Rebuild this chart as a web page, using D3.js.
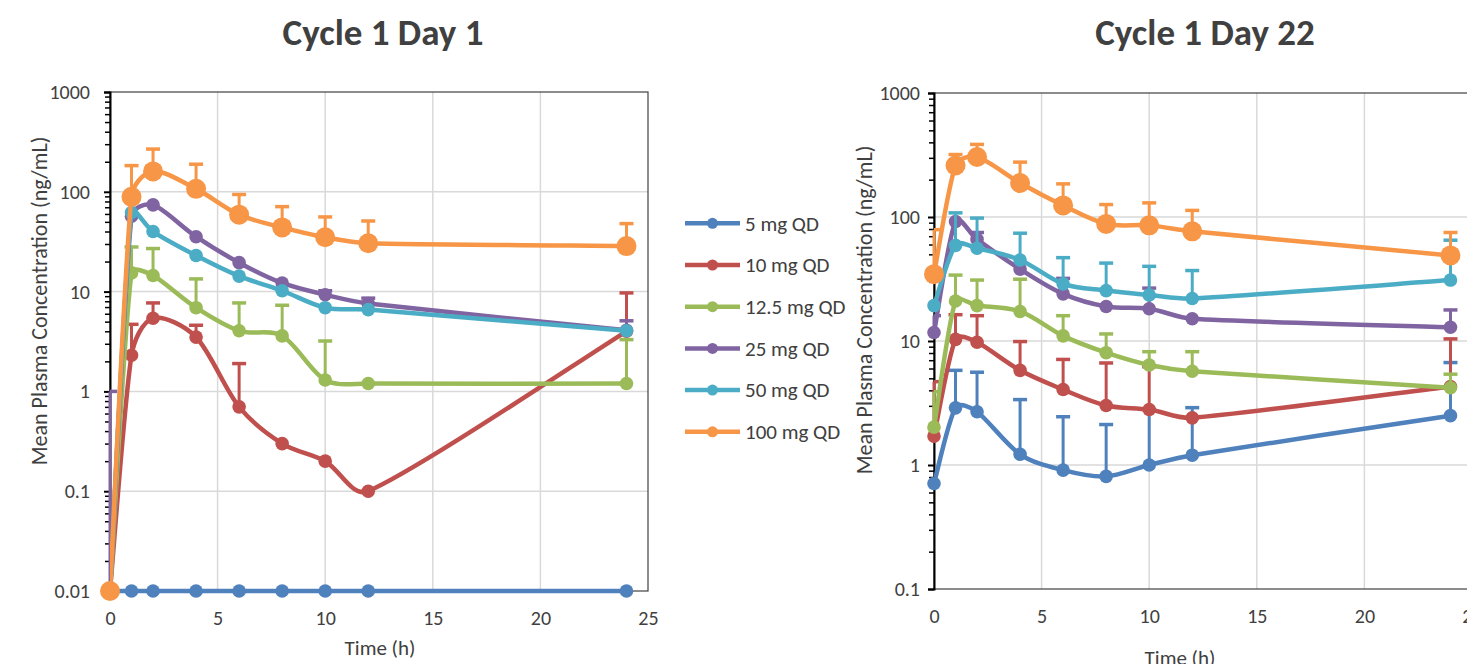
<!DOCTYPE html>
<html>
<head>
<meta charset="utf-8">
<script src="https://cdn.jsdelivr.net/npm/d3@7"></script>
<style>
body { margin: 0; background: #fff; }
text { font-family: Carlito, Lato, sans-serif; fill: #404040; }
</style>
</head>
<body>
<svg id="chart" width="1467" height="664"></svg>
<script>
var times = [0, 1, 2, 4, 6, 8, 10, 12, 24];
var doses = ["5 mg QD", "10 mg QD", "12.5 mg QD", "25 mg QD", "50 mg QD", "100 mg QD"];
var colors = ["#4F81BD", "#C0504D", "#9BBB59", "#8064A2", "#4BACC6", "#F79646"];
var xTicks = [0, 5, 10, 15, 20, 25];

// Cycle 1 Day 1 - means
var d1_5   = [0.01, 0.01, 0.01, 0.01, 0.01, 0.01, 0.01, 0.01, 0.01];
var d1_10  = [0.01, 2.3, 5.4, 3.5, 0.70, 0.30, 0.20, 0.10, 4.0];
var d1_12  = [0.01, 15.4, 14.5, 6.9, 4.05, 3.6, 1.3, 1.2, 1.2];
var d1_25  = [0.01, 57, 74, 35.5, 19.5, 12.2, 9.3, 7.6, 4.1];
var d1_50  = [0.01, 62, 40, 23, 14.3, 10.2, 6.9, 6.6, 4.05];
var d1_100 = [0.01, 89, 160, 107, 59, 44, 35, 30.5, 28.6];
// Cycle 1 Day 1 - upper error bar ends (null = not shown)
var d1_5e   = [null, null, null, null, null, null, null, null, null];
var d1_10e  = [null, 4.7, 7.7, 4.6, 1.9, null, null, null, 9.7];
var d1_12e  = [null, 28, 27, 13.4, 7.7, 7.3, 3.2, null, 3.3];
var d1_25e  = [1, null, null, null, null, null, 10.2, 8.6, 5.1];
var d1_50e  = [null, null, null, null, null, null, null, null, null];
var d1_100e = [null, 183, 268, 189, 94, 71, 56, 51, 48];

// Cycle 1 Day 22 - means
var d22_5   = [0.71, 2.89, 2.69, 1.22, 0.91, 0.81, 1.0, 1.2, 2.5];
var d22_10  = [1.71, 10.3, 9.76, 5.8, 4.06, 3.02, 2.8, 2.4, 4.3];
var d22_12  = [2.02, 21, 19.3, 17.3, 11, 8.05, 6.4, 5.7, 4.2];
var d22_25  = [11.7, 92, 66, 38, 24, 19, 18.2, 15.1, 12.9];
var d22_50  = [19.3, 59, 56, 45, 28.9, 25.5, 23.5, 22, 31];
var d22_100 = [34.6, 260, 305, 188, 124, 88, 85.6, 76.6, 49];
// Cycle 1 Day 22 - upper error bar ends
var d22_5e   = [null, 5.8, 5.6, 3.37, 2.45, 2.12, 2.8, 2.9, 6.7];
var d22_10e  = [4.7, 16.3, 16, 9.9, 7.1, 6.65, 6.2, null, 10.4];
var d22_12e  = [3.9, 34, 31, 31.5, 16, 11.4, 8.2, 8.2, 5.4];
var d22_25e  = [16, null, 75, null, 32, null, 26.7, null, 17.8];
var d22_50e  = [null, 108, 98, 74, 47, 42.5, 40, 37, 65];
var d22_100e = [79, 319, 385, 277, 185, 126, 130, 113, 75];

var svg = d3.select("#chart");

// spreadsheet-style smoothed line: catmull-rom tangents, shortened on short segments
function curveSmooth(context) {
	var pts;
	function limit(v, max) {
		var len = Math.hypot(v[0], v[1]);
		if (len > max && len > 0) return [v[0] * max / len, v[1] * max / len];
		return v;
	}
	return {
		areaStart: function() {},
		areaEnd: function() {},
		lineStart: function() { pts = []; },
		point: function(x, y) { pts.push([+x, +y]); },
		lineEnd: function() {
			var n = pts.length;
			if (!n) return;
			context.moveTo(pts[0][0], pts[0][1]);
			for (var i = 0; i < n - 1; i++) {
				var p0 = pts[Math.max(i - 1, 0)], p1 = pts[i], p2 = pts[i + 1], p3 = pts[Math.min(i + 2, n - 1)];
				var lim = Math.hypot(p2[0] - p1[0], p2[1] - p1[1]) / 3;
				var t1 = limit([(p2[0] - p0[0]) / 6, (p2[1] - p0[1]) / 6], lim);
				var t2 = limit([(p3[0] - p1[0]) / 6, (p3[1] - p1[1]) / 6], lim);
				context.bezierCurveTo(p1[0] + t1[0], p1[1] + t1[1], p2[0] - t2[0], p2[1] - t2[1], p2[0], p2[1]);
			}
		}
	};
}

function drawPanel(cfg) {
	var g = svg.append("g");
	var x = d3.scaleLinear().domain([0, 25]).range([cfg.left, cfg.right]);
	var y = d3.scaleLog().domain([cfg.ymin, 1000]).range([cfg.bottom, cfg.top]);

	var decades = [];
	for (var v = cfg.ymin; v <= 1000.5; v *= 10) decades.push(+v.toPrecision(1));
	var minors = [];
	decades.slice(0, -1).forEach(function(d) {
		for (var k = 2; k <= 9; k++) minors.push(d * k);
	});

	// gridlines
	g.selectAll(".hgrid").data(decades.slice(1, -1)).enter().append("line")
		.attr("x1", cfg.left).attr("x2", cfg.right)
		.attr("y1", function(d) { return y(d); }).attr("y2", function(d) { return y(d); })
		.attr("stroke", "#d9d9d9").attr("stroke-width", 1.5);
	g.selectAll(".vgrid").data(xTicks.slice(1, -1)).enter().append("line")
		.attr("y1", cfg.top).attr("y2", cfg.bottom)
		.attr("x1", function(d) { return x(d); }).attr("x2", function(d) { return x(d); })
		.attr("stroke", "#d9d9d9").attr("stroke-width", 1.5);

	// plot area border
	g.append("rect")
		.attr("x", cfg.left).attr("y", cfg.top)
		.attr("width", cfg.right - cfg.left).attr("height", cfg.bottom - cfg.top)
		.attr("fill", "none").attr("stroke", "#404040").attr("stroke-width", 1.2);

	// x axis
	var xAxis = g.append("g")
		.attr("transform", "translate(0," + cfg.bottom + ")")
		.call(d3.axisBottom(x).tickValues(xTicks).tickSize(0).tickPadding(20));
	xAxis.select(".domain").remove();
	xAxis.selectAll("text").style("font-size", "20px").attr("fill", "#404040");

	// y axis: minor ticks then major
	var yMinor = g.append("g")
		.attr("transform", "translate(" + cfg.left + ",0)")
		.call(d3.axisLeft(y).tickValues(minors).tickSize(5).tickFormat(""));
	yMinor.select(".domain").remove();
	yMinor.selectAll("line").attr("stroke", "#000").attr("stroke-width", 1.5);

	var yAxis = g.append("g")
		.attr("transform", "translate(" + cfg.left + ",0)")
		.call(d3.axisLeft(y).tickValues(decades).tickSize(6).tickPadding(cfg.labelPad)
			.tickFormat(function(d) { return String(d); }));
	yAxis.select(".domain").attr("stroke", "#000").attr("stroke-width", 2);
	yAxis.selectAll("line").attr("stroke", "#000").attr("stroke-width", 2);
	yAxis.selectAll("text").style("font-size", "20px").attr("fill", "#404040");

	// titles
	g.append("text")
		.attr("x", cfg.titleX).attr("y", 45)
		.attr("text-anchor", "middle")
		.style("font-size", "37px").style("font-weight", "bold")
		.attr("fill", "#262626")
		.text(cfg.title);

	g.append("text")
		.attr("transform", "translate(" + cfg.yTitleX + "," + cfg.yTitleY + ") rotate(-90)")
		.attr("text-anchor", "middle")
		.style("font-size", "22px")
		.text("Mean Plasma Concentration (ng/mL)");

	g.append("text")
		.attr("x", cfg.xTitleX).attr("y", cfg.xTitleY)
		.attr("text-anchor", "middle")
		.style("font-size", "21px")
		.text("Time (h)");

	// clip for lines
	var clipId = "clip" + cfg.left;
	svg.append("clipPath").attr("id", clipId).append("rect")
		.attr("x", cfg.left).attr("y", cfg.top - 4)
		.attr("width", cfg.right - cfg.left).attr("height", cfg.bottom - cfg.top + 8);

	var line = d3.line()
		.x(function(d) { return x(d.t); })
		.y(function(d) { return y(d.v); })
		.curve(curveSmooth);

	cfg.series.forEach(function(vals, i) {
		var pts = times.map(function(t, j) { return {t: t, v: vals[j], e: cfg.errors[i][j]}; });
		var sg = g.append("g");
		sg.append("path")
			.datum(pts)
			.attr("clip-path", "url(#" + clipId + ")")
			.attr("fill", "none")
			.attr("stroke", colors[i])
			.attr("stroke-width", 4.5)
			.attr("d", line);

		var eb = pts.filter(function(d) { return d.e != null; });
		sg.selectAll(".bar").data(eb).enter().append("line")
			.attr("x1", function(d) { return x(d.t); }).attr("x2", function(d) { return x(d.t); })
			.attr("y1", function(d) { return y(d.v); }).attr("y2", function(d) { return y(d.e); })
			.attr("stroke", colors[i]).attr("stroke-width", 3);
		sg.selectAll(".cap").data(eb).enter().append("line")
			.attr("x1", function(d) { return Math.max(cfg.left, x(d.t) - 7); })
			.attr("x2", function(d) { return x(d.t) + 7; })
			.attr("y1", function(d) { return y(d.e); }).attr("y2", function(d) { return y(d.e); })
			.attr("stroke", colors[i]).attr("stroke-width", 3.5);

		sg.selectAll("circle").data(pts).enter().append("circle")
			.attr("cx", function(d) { return x(d.t); })
			.attr("cy", function(d) { return y(d.v); })
			.attr("r", i === 5 ? 10 : 6.8)
			.attr("fill", colors[i]);
	});
}

drawPanel({
	left: 110, right: 648, top: 92, bottom: 591, ymin: 0.01,
	title: "Cycle 1 Day 1", titleX: 383,
	labelPad: 14,
	yTitleX: 47, yTitleY: 301,
	xTitleX: 380, xTitleY: 655,
	series: [d1_5, d1_10, d1_12, d1_25, d1_50, d1_100],
	errors: [d1_5e, d1_10e, d1_12e, d1_25e, d1_50e, d1_100e]
});

drawPanel({
	left: 934, right: 1472, top: 93, bottom: 589, ymin: 0.1,
	title: "Cycle 1 Day 22", titleX: 1205,
	labelPad: 8,
	yTitleX: 872, yTitleY: 310,
	xTitleX: 1180, xTitleY: 665,
	series: [d22_5, d22_10, d22_12, d22_25, d22_50, d22_100],
	errors: [d22_5e, d22_10e, d22_12e, d22_25e, d22_50e, d22_100e]
});

// legend
var legend = svg.append("g").selectAll("g").data(doses).enter().append("g")
	.attr("transform", function(d, i) { return "translate(0," + (223.3 + i * 41.7) + ")"; });
legend.append("line")
	.attr("x1", 685).attr("x2", 740)
	.attr("stroke", function(d, i) { return colors[i]; })
	.attr("stroke-width", 4.5);
legend.append("circle")
	.attr("cx", 712.5).attr("r", 5.5)
	.attr("fill", function(d, i) { return colors[i]; });
legend.append("text")
	.attr("x", 745).attr("dy", "0.35em")
	.style("font-size", "21px")
	.text(function(d) { return d; });
</script>
</body>
</html>
